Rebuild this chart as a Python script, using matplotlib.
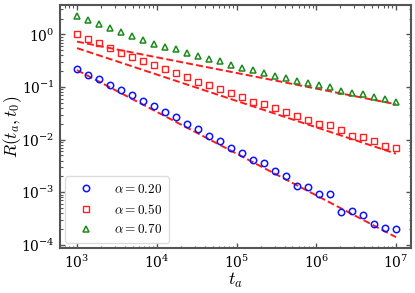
import matplotlib
matplotlib.use('Agg')
import matplotlib.pyplot as plt
import numpy as np

plt.rcParams['mathtext.fontset'] = 'cm'
plt.rcParams['font.family'] = 'serif'
plt.rcParams['font.serif'] = ['DejaVu Serif']

# waiting times t_a (30 log-spaced points, 1e3 .. 1e7)
t_a = np.logspace(3, 7, 30)

# response R(t_a, t_0)
r_020 = [0.217, 0.172, 0.140, 0.111, 0.0868, 0.0719, 0.0537, 0.0432, 0.0337, 0.0264,
         0.0197, 0.0156, 0.0115, 0.00937, 0.00699, 0.00548, 0.00409, 0.00354, 0.00253, 0.00203,
         0.00131, 0.00127, 0.000926, 0.000939, 0.000417, 0.000432, 0.000370, 0.000254, 0.000210, 0.000198]
r_050 = [1.03, 0.829, 0.684, 0.560, 0.442, 0.371, 0.312, 0.258, 0.224, 0.182,
         0.153, 0.125, 0.107, 0.0906, 0.0771, 0.0640, 0.0530, 0.0471, 0.0401, 0.0332,
         0.0283, 0.0234, 0.0201, 0.0188, 0.0151, 0.0118, 0.0111, 0.00922, 0.00762, 0.00699]
r_070 = [2.22, 1.87, 1.57, 1.32, 1.11, 0.916, 0.794, 0.667, 0.585, 0.520,
         0.442, 0.388, 0.340, 0.308, 0.258, 0.234, 0.214, 0.185, 0.165, 0.151,
         0.133, 0.121, 0.108, 0.0989, 0.0857, 0.0785, 0.0729, 0.0648, 0.0604, 0.0521]

# dashed power-law guides (end points)
fit_t = [1e3, 1e7]
fit_020 = [0.21, 1.4e-4]
fit_050 = [0.55, 0.0054]
fit_070 = [0.73, 0.047]

labels = [r'$\alpha = 0.20$', r'$\alpha = 0.50$', r'$\alpha = 0.70$']

fig = plt.figure(figsize=(4.15, 2.93), dpi=100)
ax = fig.add_axes([0.1446, 0.1536, 0.8458, 0.8294])

dash = dict(color='#ff1a1a', lw=1.4, dashes=(3.6, 1.6))
ax.plot(fit_t, fit_020, **dash)
ax.plot(fit_t, fit_050, **dash)
ax.plot(fit_t, fit_070, **dash)

ax.plot(t_a, r_020, 'o', mfc='none', mec='#0a14ff', ms=4.6, mew=1.1, ls='none', label=labels[0])
ax.plot(t_a, r_050, 's', mfc='none', mec='#ff2020', ms=4.6, mew=1.0, ls='none', label=labels[1])
ax.plot(t_a, r_070, '^', mfc='none', mec='#1a8a1a', ms=4.8, mew=1.1, ls='none', label=labels[2])

ax.set_xscale('log')
ax.set_yscale('log')
ax.set_xlim(10**2.787, 10**7.188)
ax.set_ylim(10**-4.06, 10**0.56)

ax.set_xlabel(r'$t_a$', fontsize=13, labelpad=0)
ax.set_ylabel(r'$R(t_a, t_0)$', fontsize=12.5)
ax.yaxis.set_label_coords(-0.104, 0.5)

for s in ax.spines.values():
    s.set_color('#555555')
    s.set_linewidth(1.5)
ax.tick_params(which='both', direction='in', top=True, right=True, color='#555555')
ax.tick_params(which='major', length=3.5, width=1.0, labelsize=10, pad=4)
ax.tick_params(which='minor', length=1.8, width=0.8)

leg = ax.legend(loc='lower left', fontsize=9.5, handlelength=2.2, handletextpad=1.0,
                borderpad=0.5, labelspacing=0.5, framealpha=1.0, borderaxespad=0.4)
leg.get_frame().set_edgecolor('#dddddd')

fig.savefig('out.png', dpi=100)
